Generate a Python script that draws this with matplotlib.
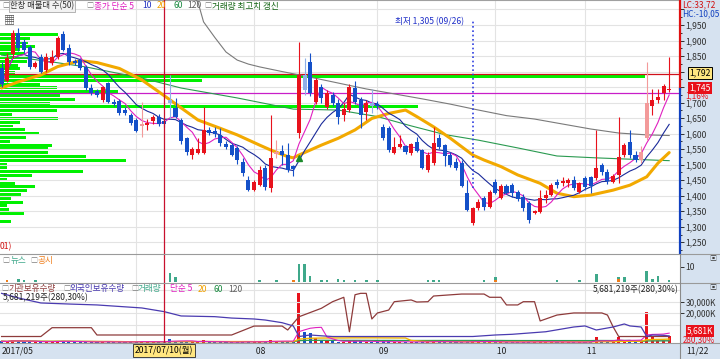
import numpy as np
import pandas as pd
import matplotlib
matplotlib.use("Agg")
import matplotlib.pyplot as plt
from matplotlib.patches import Rectangle
from matplotlib.lines import Line2D
from matplotlib.transforms import blended_transform_factory as btf
from matplotlib.ticker import FuncFormatter

plt.rcParams['font.family'] = ['Noto Sans CJK KR', 'DejaVu Sans']

# ---------------------------------------------------------------- data
opens = [1810, 1770, 1855, 1925, 1895, 1878, 1815, 1848, 1805, 1826,
         1847, 1922, 1876, 1835, 1838, 1815, 1748, 1736, 1708, 1762,
         1703, 1705, 1677, 1660, 1643, 1625, 1628, 1640, 1653, 1640,
         1708, 1683, 1644, 1585, 1531, 1538, 1538, 1612, 1610, 1596,
         1567, 1563, 1553, 1510, 1450, 1418, 1435, 1488, 1425, 1535,
         1545, 1530, 1495, 1602, 1790, 1830, 1703, 1751, 1686, 1724,
         1700, 1660, 1676, 1746, 1708, 1671, 1700, 1696, 1622, 1618,
         1538, 1557, 1560, 1538, 1574, 1547, 1483, 1505, 1586, 1563,
         1531, 1510, 1505, 1408, 1312, 1360, 1392, 1365, 1445, 1392,
         1430, 1434, 1413, 1397, 1375, 1345, 1348, 1392, 1402, 1445,
         1440, 1442, 1452, 1412, 1457, 1460, 1457, 1500, 1475, 1445,
         1467, 1531, 1574, 1531, 1516, 1586, 1690, 1708, 1731, 1740]
highs = [1830, 1860, 1935, 1940, 1905, 1885, 1835, 1855, 1860, 1870,
         1915, 1930, 1890, 1840, 1845, 1820, 1760, 1745, 1755, 1765,
         1710, 1712, 1685, 1668, 1650, 1703, 1648, 1660, 1662, 1650,
         1790, 1715, 1650, 1590, 1558, 1585, 1686, 1620, 1622, 1618,
         1575, 1570, 1560, 1520, 1462, 1450, 1495, 1498, 1660, 1580,
         1565, 1570, 1500, 1896, 1845, 1860, 1780, 1760, 1740, 1735,
         1710, 1700, 1760, 1770, 1718, 1708, 1745, 1705, 1630, 1625,
         1590, 1595, 1565, 1570, 1590, 1552, 1540, 1622, 1600, 1568,
         1540, 1520, 1515, 1450, 1364, 1390, 1400, 1420, 1455, 1438,
         1438, 1440, 1420, 1405, 1382, 1355, 1418, 1418, 1440, 1455,
         1460, 1458, 1462, 1445, 1465, 1465, 1612, 1505, 1485, 1470,
         1654, 1570, 1612, 1545, 1560, 1832, 1745, 1745, 1760, 1848]
lows = [1750, 1765, 1845, 1865, 1860, 1808, 1810, 1795, 1800, 1820,
        1840, 1865, 1820, 1820, 1805, 1740, 1725, 1718, 1702, 1700,
        1690, 1660, 1660, 1628, 1605, 1590, 1612, 1632, 1625, 1620,
        1650, 1650, 1568, 1532, 1518, 1535, 1535, 1595, 1590, 1560,
        1550, 1527, 1502, 1465, 1415, 1414, 1430, 1420, 1413, 1520,
        1500, 1475, 1465, 1585, 1725, 1720, 1695, 1700, 1680, 1690,
        1630, 1640, 1670, 1695, 1618, 1645, 1665, 1680, 1580, 1540,
        1535, 1555, 1535, 1532, 1540, 1485, 1478, 1500, 1552, 1495,
        1493, 1483, 1428, 1350, 1305, 1355, 1355, 1360, 1405, 1388,
        1405, 1395, 1382, 1352, 1312, 1340, 1345, 1378, 1398, 1425,
        1430, 1428, 1420, 1410, 1420, 1408, 1450, 1468, 1438, 1440,
        1440, 1525, 1522, 1510, 1505, 1580, 1660, 1700, 1708, 1735]
closes = [1760, 1845, 1925, 1875, 1870, 1815, 1828, 1800, 1847, 1848,
          1908, 1870, 1830, 1828, 1812, 1748, 1732, 1726, 1750, 1703,
          1696, 1668, 1668, 1635, 1610, 1630, 1635, 1655, 1632, 1632,
          1700, 1655, 1575, 1542, 1550, 1550, 1612, 1602, 1600, 1570,
          1558, 1532, 1515, 1473, 1420, 1445, 1482, 1428, 1520, 1542,
          1532, 1484, 1485, 1790, 1740, 1730, 1773, 1716, 1731, 1700,
          1655, 1680, 1751, 1703, 1660, 1700, 1690, 1688, 1586, 1548,
          1557, 1567, 1540, 1567, 1544, 1490, 1531, 1570, 1558, 1527,
          1500, 1490, 1432, 1355, 1360, 1380, 1365, 1412, 1410, 1430,
          1410, 1408, 1388, 1360, 1322, 1350, 1392, 1402, 1434, 1435,
          1446, 1450, 1426, 1440, 1428, 1430, 1490, 1475, 1447, 1465,
          1526, 1562, 1532, 1516, 1540, 1700, 1708, 1717, 1753, 1745]
faded = [25, 30, 49, 54, 66, 114, 115]

volumes = [1500, 1200, 2600, 1800, 1100, 1400, 900, 1000, 1300, 1200,
           2000, 1600, 1100, 800, 900, 1200, 1000, 800, 900, 1300,
           700, 900, 800, 1000, 1200, 1900, 800, 700, 900, 1000,
           3600, 1700, 1500, 1300, 1000, 900, 2200, 800, 700, 900,
           700, 800, 900, 1000, 1400, 900, 1100, 1000, 2400, 1800,
           1600, 1400, 1000, 43000, 9500, 8600, 4300, 2200, 1500, 1300,
           1200, 1000, 2400, 1600, 1300, 1000, 1100, 900, 1300, 1500,
           900, 800, 800, 900, 1000, 1200, 900, 1800, 1100, 900,
           800, 700, 900, 1300, 1600, 1500, 900, 1000, 1100, 800,
           700, 700, 800, 900, 1200, 800, 1300, 900, 1000, 800,
           700, 800, 900, 800, 900, 1000, 4900, 1400, 1200, 900,
           4900, 2600, 2000, 1300, 1700, 26800, 5200, 2500, 2300, 5681]

# moving averages (they need history before the window)
ma20_idx = [0, 3, 7, 10, 14, 17, 21, 25, 28, 32, 35, 39, 42, 46, 48, 51, 52, 53, 57, 60,
            63, 66, 69, 72, 74, 77, 80, 84, 86, 89, 92, 96, 99, 102, 105, 109, 112, 115, 117, 119]
ma20_val = [1747, 1767, 1789, 1816, 1835, 1829, 1810, 1773, 1735, 1683, 1644, 1617, 1596, 1563,
            1547, 1526, 1522, 1531, 1563, 1585, 1612, 1649, 1665, 1676, 1655, 1622, 1585, 1531,
            1515, 1494, 1467, 1440, 1408, 1397, 1402, 1418, 1434, 1461, 1505, 1539]
ma60_idx = [0, 9, 15, 25, 32, 42, 52, 60, 67, 73, 79, 85, 92, 99, 106, 113, 119]
ma60_val = [1853, 1831, 1815, 1779, 1747, 1715, 1679, 1676, 1655, 1625, 1597, 1579, 1554,
            1528, 1522, 1517, 1513]
ma120_idx = [33, 35, 36, 38, 40, 42, 44, 46, 50, 55, 60, 65, 70, 75, 80, 85, 90, 95, 100,
             105, 110, 115, 119]
ma120_val = [2060, 2024, 1960, 1910, 1863, 1837, 1824, 1815, 1800, 1782, 1763, 1744, 1728,
             1712, 1695, 1676, 1658, 1647, 1631, 1615, 1602, 1596, 1594]

# 매물대 (50 price bins, top -> bottom)
profile = [58, 30, 28, 35, 20, 25, 30, 27, 18, 20,
           15, 645, 202, 40, 57, 118, 60, 75, 50, 418,
           57, 12, 58, 20, 13, 25, 39, 26, 10, 52,
           48, 48, 86, 126, 7, 7, 83, 32, 7, 15,
           35, 27, 21, 11, 23, 7, 9, 24, 0, 11]

news_idx = [3, 4, 6, 30, 31, 46, 49, 53, 54, 55, 57, 58, 60, 61, 63, 65, 67, 76, 77, 78,
            86, 88, 99, 103, 106, 110, 111, 115, 116, 117, 119]
news_cnt = [2, 1, 1, 6, 3, 1, 1, 12, 12, 4, 1, 1, 2, 1, 1, 1, 1, 1, 1, 1,
            1, 2, 1, 1, 5, 1, 3, 7, 2, 4, 1]
disc_idx = [1, 52, 88, 110]
disc_cnt = [1, 1, 1, 2]

inst_idx = [0, 7, 9, 16, 17, 41, 45, 50, 51, 53, 57, 59, 61, 62, 63, 64, 65, 66, 67, 69,
            70, 73, 74, 76, 77, 82, 86, 87, 89, 90, 92, 93, 95, 96, 99, 102, 107, 108, 109, 110, 119]
inst_val = [0, 0, 7600, 7600, 1300, 1300, 9000, 9000, 5600, 17000, 24300, 30000, 33800, 4100,
            36000, 37200, 37200, 15100, 20300, 22800, 30000, 31500, 29700, 30000, 34900, 36600,
            36600, 33800, 33800, 27200, 27200, 30000, 30000, 13400, 18500, 20300, 20300, 18500,
            8400, 0, 0]
fore_idx = [0, 3, 7, 12, 17, 25, 29, 32, 38, 41, 45, 47, 50, 52, 53, 55, 57, 59, 83, 84,
            88, 91, 97, 102, 104, 106, 109, 111, 112, 114, 115, 116, 118, 119]
fore_val = [37200, 33200, 28900, 28000, 27200, 24600, 21400, 17700, 17100, 15900, 15100, 14200,
            11900, 9100, 0, 1300, 600, 0, 0, 0, 1300, 1900, 4100, 8200, 9100, 5600, 8200, 10800,
            9100, 8200, 0, 1300, 1000, 500]

month_idx = [24, 45, 67, 88, 104]
month_lbl = ['07', '08', '09', '10', '11']
signal_idx = [53]
cursor_i = 29
cursor_price = 1792
hline_price = 1730
last_date = '11/22'

# ---------------------------------------------------------------- layout
W, H = 720, 359
X0, X1 = -0.285, 120.93
P0, P1 = 1212.3, 2030.5
UP, DN = '#e8121c', '#1450c8'
UP_F, DN_F = '#f39a9a', '#8fb0e8'
PANEL = '#d6e2f0'
GRID = '#e3e3e3'


def rect(x0, y0, x1, y1):
    return [x0 / W, 1 - y1 / H, (x1 - x0) / W, (y1 - y0) / H]


def ftext(x, y, s, **kw):
    kw.setdefault('fontsize', 6.2)
    kw.setdefault('va', 'center')
    return fig.text(x / W, 1 - y / H, s, **kw)


def hsep(y, x0=0, x1=W, color='#9a9a9a'):
    fig.lines.append(Line2D([x0 / W, x1 / W], [1 - y / H] * 2, transform=fig.transFigure,
                            color=color, lw=0.8))


fig = plt.figure(figsize=(W / 100, H / 100), dpi=100)
fig.patches.append(Rectangle((680 / W, 0), 40 / W, 1, transform=fig.transFigure,
                             fc=PANEL, ec='none', zorder=-5))
fig.patches.append(Rectangle((0, 0), 1, 16 / H, transform=fig.transFigure,
                             fc=PANEL, ec='none', zorder=-5))

o, h, l, c = (np.array(a, float) for a in (opens, highs, lows, closes))
idx = np.arange(len(c))
up = c >= o
col = np.where(up, UP, DN).astype(object)
for i in faded:
    col[i] = UP_F if up[i] else DN_F

# ---------------------------------------------------------------- price panel
ax = fig.add_axes(rect(0, 0, 680, 254))
ax.set_xlim(X0, X1)
ax.set_ylim(P0, P1)
for s in ['left', 'right', 'bottom']:
    ax.spines[s].set_visible(False)
ax.spines['top'].set_color('#a0a0a0')
ax.set_xticks([])
ax.set_yticks(np.arange(1250, 2001, 50))
ax.set_yticks(np.arange(1225, 2001, 50), minor=True)
ax.yaxis.tick_right()
hidden = [cursor_price, closes[-1]]


def price_fmt(v, p):
    if v > 1975 or any(abs(v - q) < 20 for q in hidden):
        return ''
    return f'{int(v):,}'


ax.yaxis.set_major_formatter(FuncFormatter(price_fmt))
ax.tick_params(axis='y', which='major', direction='out', length=3, width=0.7, pad=1,
               labelsize=6.2, colors='#303030')
ax.tick_params(axis='y', which='minor', direction='out', length=1.2, width=0.7, colors='#303030')
ax.grid(axis='y', color=GRID, lw=0.8, zorder=0)
for m in month_idx:
    ax.axvline(m, color=GRID, lw=0.8, zorder=0)

# volume profile bars
top = max(o.max(), c.max())
bot = min(o.min(), c.min())
edges = np.linspace(top, bot, len(profile) + 1)
centers = (edges[:-1] + edges[1:]) / 2
bin_h = (top - bot) / len(profile)
prof = np.array(profile, float)
ax.barh(centers, prof / prof.max() * 0.948 * (X1 - X0), left=X0, height=bin_h * 0.78,
        color='#00f000', zorder=1)

ax.axhline(cursor_price, color='#d0101a', lw=0.9, zorder=2)
ax.axhline(hline_price, color='#c81ec8', lw=0.9, zorder=2)

ax.plot(ma120_idx, ma120_val, color='#7a7a7a', lw=0.8, zorder=3)
ax.plot(ma60_idx, ma60_val, color='#2a9a50', lw=0.8, zorder=3)
ax.plot(ma20_idx, ma20_val, color='#f2a900', lw=2.2, zorder=3, solid_capstyle='round')
cs = pd.Series(c)
ax.plot(idx, cs.rolling(10, min_periods=1).mean(), color='#1a2a9a', lw=0.8, zorder=3)
ax.plot(idx, cs.rolling(5, min_periods=1).mean(), color='#e020c0', lw=0.8, zorder=3)

ax.vlines(idx, l, h, colors=list(col), lw=0.8, zorder=4)
ax.bar(idx, np.maximum(np.abs(c - o), 3), bottom=np.minimum(o, c), width=0.72,
       color=list(col), zorder=5)
for i in signal_idx:
    ax.plot(i, l[i] - 65, marker='^', color='#1a8a2a', ms=5, zorder=6)

# lowest price marker
lo_i = int(np.argmin(l))
blend = btf(ax.transData, ax.transAxes)
ax.axvline(lo_i, ymin=(h[lo_i] + 60 - P0) / (P1 - P0), ymax=1 - 20 / 254,
           color='#3040e0', lw=1.2, ls=(0, (1, 1.6)), zorder=6)
ax.annotate(f'최저 {int(l[lo_i]):,} (09/26)', xy=(lo_i, 1 - 22 / 254), xycoords=blend,
            xytext=(-6, 0), textcoords='offset points', ha='right', va='center',
            fontsize=6.2, color='#2030c8')

ax.axvline(cursor_i, color='#c8102e', lw=0.9, zorder=7)

# right border: red above last close, blue below
frac = (c[-1] - P0) / (P1 - P0)
ax.axvline(X1, ymin=frac, ymax=1, color='#e01010', lw=1.6, clip_on=False, zorder=8)
ax.axvline(X1, ymin=0, ymax=frac, color='#1040c0', lw=1.6, clip_on=False, zorder=8)

# ---------------------------------------------------------------- news panel
axn = fig.add_axes(rect(0, 255, 680, 283))
axn.set_xlim(X0, X1)
axn.set_ylim(-0.667, 18)
for s in axn.spines.values():
    s.set_visible(False)
axn.set_xticks([])
axn.set_yticks([10])
axn.yaxis.tick_right()
axn.tick_params(axis='y', direction='out', length=3, width=0.7, pad=1, labelsize=6.2,
                colors='#303030')
for m in month_idx:
    axn.axvline(m, color=GRID, lw=0.8, zorder=0)
dc = np.zeros(len(c))
dc[disc_idx] = disc_cnt
axn.bar(disc_idx, disc_cnt, width=0.45, color='#ef7d1a', zorder=2)
axn.bar(news_idx, news_cnt, bottom=dc[news_idx], width=0.45, color='#3fa88a', zorder=2)
axn.axvline(cursor_i, color='#c8102e', lw=0.9, zorder=7)

# ---------------------------------------------------------------- holdings / volume panel
axv = fig.add_axes(rect(0, 284, 680, 343))
axv.set_xlim(X0, X1)
axv.set_ylim(0, 50858)
for s in axv.spines.values():
    s.set_visible(False)
axv.set_xticks([])
axv.set_yticks([])
for m in month_idx:
    axv.axvline(m, color=GRID, lw=0.8, zorder=0)
axv.bar(idx, volumes, width=0.55, color=[UP if u else DN for u in up], zorder=2)
vs = pd.Series(volumes, dtype=float)
axv.plot(idx, vs.rolling(120, min_periods=1).mean(), color='#8a8a8a', lw=0.8, zorder=3)
axv.plot(idx, vs.rolling(60, min_periods=1).mean(), color='#2a9a50', lw=0.8, zorder=3)
axv.plot(idx, vs.rolling(20, min_periods=1).mean(), color='#f2b400', lw=1.0, zorder=3)
axv.plot(idx, vs.rolling(5, min_periods=1).mean(), color='#e020c0', lw=0.8, zorder=3)

axh = axv.twinx()
axh.set_xlim(X0, X1)
axh.set_ylim(-5600, 45255)
for s in axh.spines.values():
    s.set_visible(False)
for g in [10000, 20000, 30000, 40000]:
    axh.axhline(g, color=GRID, lw=0.8, zorder=0)
axh.set_yticks([20000, 30000])
axh.yaxis.set_major_formatter(FuncFormatter(lambda v, p: f'{int(v):,}K'))
axh.tick_params(axis='y', direction='out', length=3, width=0.7, pad=1, labelsize=6.0,
                colors='#303030')
axh.plot(inst_idx, inst_val, color='#8e3b3b', lw=0.9, zorder=4)
axh.plot(fore_idx, fore_val, color='#4a3bb0', lw=0.9, zorder=4)
axh.axvline(cursor_i, color='#c8102e', lw=0.9, zorder=7)

# ---------------------------------------------------------------- separators & texts
hsep(254)
hsep(283)
hsep(343)
fig.lines.append(Line2D([680 / W] * 2, [0, 1 - 254 / H], transform=fig.transFigure,
                        color='#8a8a8a', lw=0.8))

# top legend
ftext(2, 6, '□', color='#808080', fontsize=5)
ftext(10, 6, '한창 매물대 수(50)', color='#303030', fontsize=6.0,
      bbox=dict(boxstyle='square,pad=0.12', fc='#f2f2f2', ec='#a8a8a8', lw=0.6))
ftext(86, 6, '□', color='#808080', fontsize=5)
ftext(94, 6, '종가 단순 5', color='#e020c0')
ftext(142, 6, '10', color='#2030c0')
ftext(157, 6, '20', color='#f0a000')
ftext(173, 6, '60', color='#1a8a40')
ftext(187, 6, '120', color='#606060')
ftext(204, 6, '□', color='#808080', fontsize=5)
ftext(212, 6, '거래량 최고치 갱신', color='#146414')
ftext(4, 20, '▦', color='#505050', fontsize=8)

ftext(682, 5, 'LC:33,72', color='#d01010', fontsize=6.0)
ftext(682, 14, 'HC:-10,05', color='#1040c0', fontsize=6.0)
ftext(700, 73, f'{cursor_price:,}', color='black', ha='center', fontsize=6.2,
      bbox=dict(boxstyle='square,pad=0.2', fc='#ffe680', ec='black', lw=0.7))
ftext(700, 88, f'{int(c[-1]):,}', color='white', ha='center', fontsize=6.2,
      bbox=dict(boxstyle='square,pad=0.15', fc='#e8101a', ec='none'))
ftext(685, 95.5, '1,16%', color='#e8101a', fontsize=5.8)

ftext(0, 247, '01)', color='#d01010')

ftext(2, 261, '□', color='#808080', fontsize=5)
ftext(11, 261, '뉴스', color='#3fa88a')
ftext(30, 261, '□', color='#808080', fontsize=5)
ftext(37, 261, '공시', color='#ef7d1a')
ftext(713, 259, '▣', color='#404040', fontsize=5, ha='center')
ftext(713, 288, '▣', color='#404040', fontsize=5, ha='center')

ftext(1, 289, '□', color='#808080', fontsize=5)
ftext(8, 289, '기관보유수량', color='#8e3b3b')
ftext(63, 289, '□', color='#808080', fontsize=5)
ftext(70, 289, '외국인보유수량', color='#4a3bb0')
ftext(131, 289, '□', color='#808080', fontsize=5)
ftext(138, 289, '거래량', color='#3fa88a')
ftext(170, 289, '단순 5', color='#e020c0')
ftext(198, 289, '20', color='#f0a000')
ftext(213, 289, '60', color='#1a8a40')
ftext(228, 289, '120', color='#606060')
vol_txt = f'{volumes[-1] * 1000 + 219:,}주(280,30%)'
ftext(3, 298, vol_txt, color='#202020')
ftext(679, 290, vol_txt, color='#202020', ha='right')
ftext(700, 331, f'{volumes[-1]:,}K', color='white', ha='center', fontsize=6.0,
      bbox=dict(boxstyle='square,pad=0.15', fc='#e8101a', ec='none'))
ftext(683, 339.5, '280,30%', color='#e8101a', fontsize=5.8)

# date bar
bt = btf(axv.transData, fig.transFigure)
ftext(2, 351, '2017/05', color='#202020')
for m, lbl in zip(month_idx, month_lbl):
    if abs(m - cursor_i) > 8:
        fig.text(m, 1 - 351 / H, ' ' + lbl, transform=bt, fontsize=6.2, va='center',
                 color='#202020')
fig.text(cursor_i, 1 - 350.5 / H, '2017/07/10(월)', transform=bt, fontsize=6.2, va='center',
         ha='center', color='black', zorder=10,
         bbox=dict(boxstyle='square,pad=0.2', fc='#ffe680', ec='#404040', lw=0.7))
ftext(686, 351, last_date, color='#202020')

fig.savefig('out.png', dpi=100)
